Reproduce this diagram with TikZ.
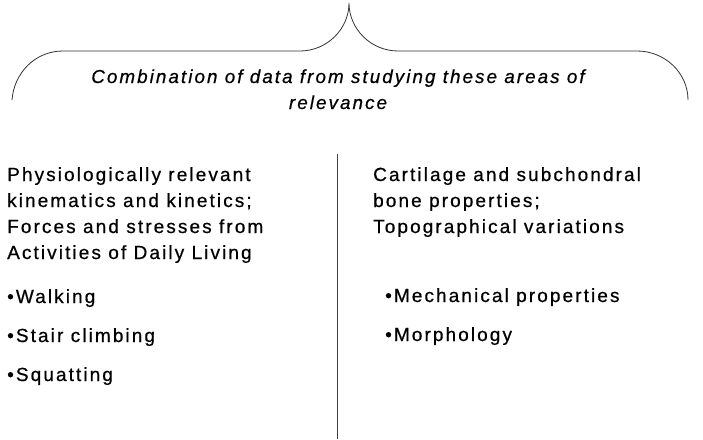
\documentclass[tikz,border=0pt]{standalone}
\usepackage{fontspec}
\setmainfont{Liberation Sans}[LetterSpace=11,FakeBold=0.6]
\begin{document}
\begin{tikzpicture}[x=1pt,y=-1pt,
  txt/.style={anchor=base west,inner sep=0pt,font=\fontsize{19}{26}\selectfont},
  itxt/.style={anchor=base,inner sep=0pt,font=\fontsize{18.8}{26}\selectfont\itshape},
  brace/.style={draw=black!80,line width=0.8pt},
  divider/.style={draw=black!75,line width=0.9pt}]
\useasboundingbox (0,0) rectangle (703,439);
% brace
\coordinate (bl) at (12,100);
\coordinate (br) at (688,100);
\coordinate (tip) at (349,3);
\path[brace] (bl) .. controls (14,73) and (35,51) .. (63,51) -- (300,51)
  .. controls (327,51) and (349,29) .. (tip)
  .. controls (349,29) and (371,51) .. (398,51) -- (637,51)
  .. controls (665,51) and (688,73) .. (br);
\node[itxt] (c1) at (338,83) {Combination of data from studying these areas of};
\node[itxt] (c2) at (338,109) {relevance};
% divider
\coordinate (dtop) at (337,154);
\coordinate (dbot) at (337,439);
\path[divider] (dtop) -- (dbot);
% left column
\node[txt] (l1) at (7,181) {Physiologically relevant};
\node[txt] (l2) at (7,207) {kinematics and kinetics;};
\node[txt] (l3) at (7,233) {Forces and stresses from};
\node[txt] (l4) at (7,259) {Activities of Daily Living};
\node[txt] (lb1) at (7,303) {•Walking};
\node[txt] (lb2) at (7,342) {•Stair climbing};
\node[txt] (lb3) at (7,381) {•Squatting};
% right column
\node[txt] (r1) at (373,181) {Cartilage and subchondral};
\node[txt] (r2) at (373,207) {bone properties;};
\node[txt] (r3) at (373,233) {Topographical variations};
\node[txt] (rb1) at (385,302) {•Mechanical properties};
\node[txt] (rb2) at (385,341) {•Morphology};
\end{tikzpicture}
\end{document}
